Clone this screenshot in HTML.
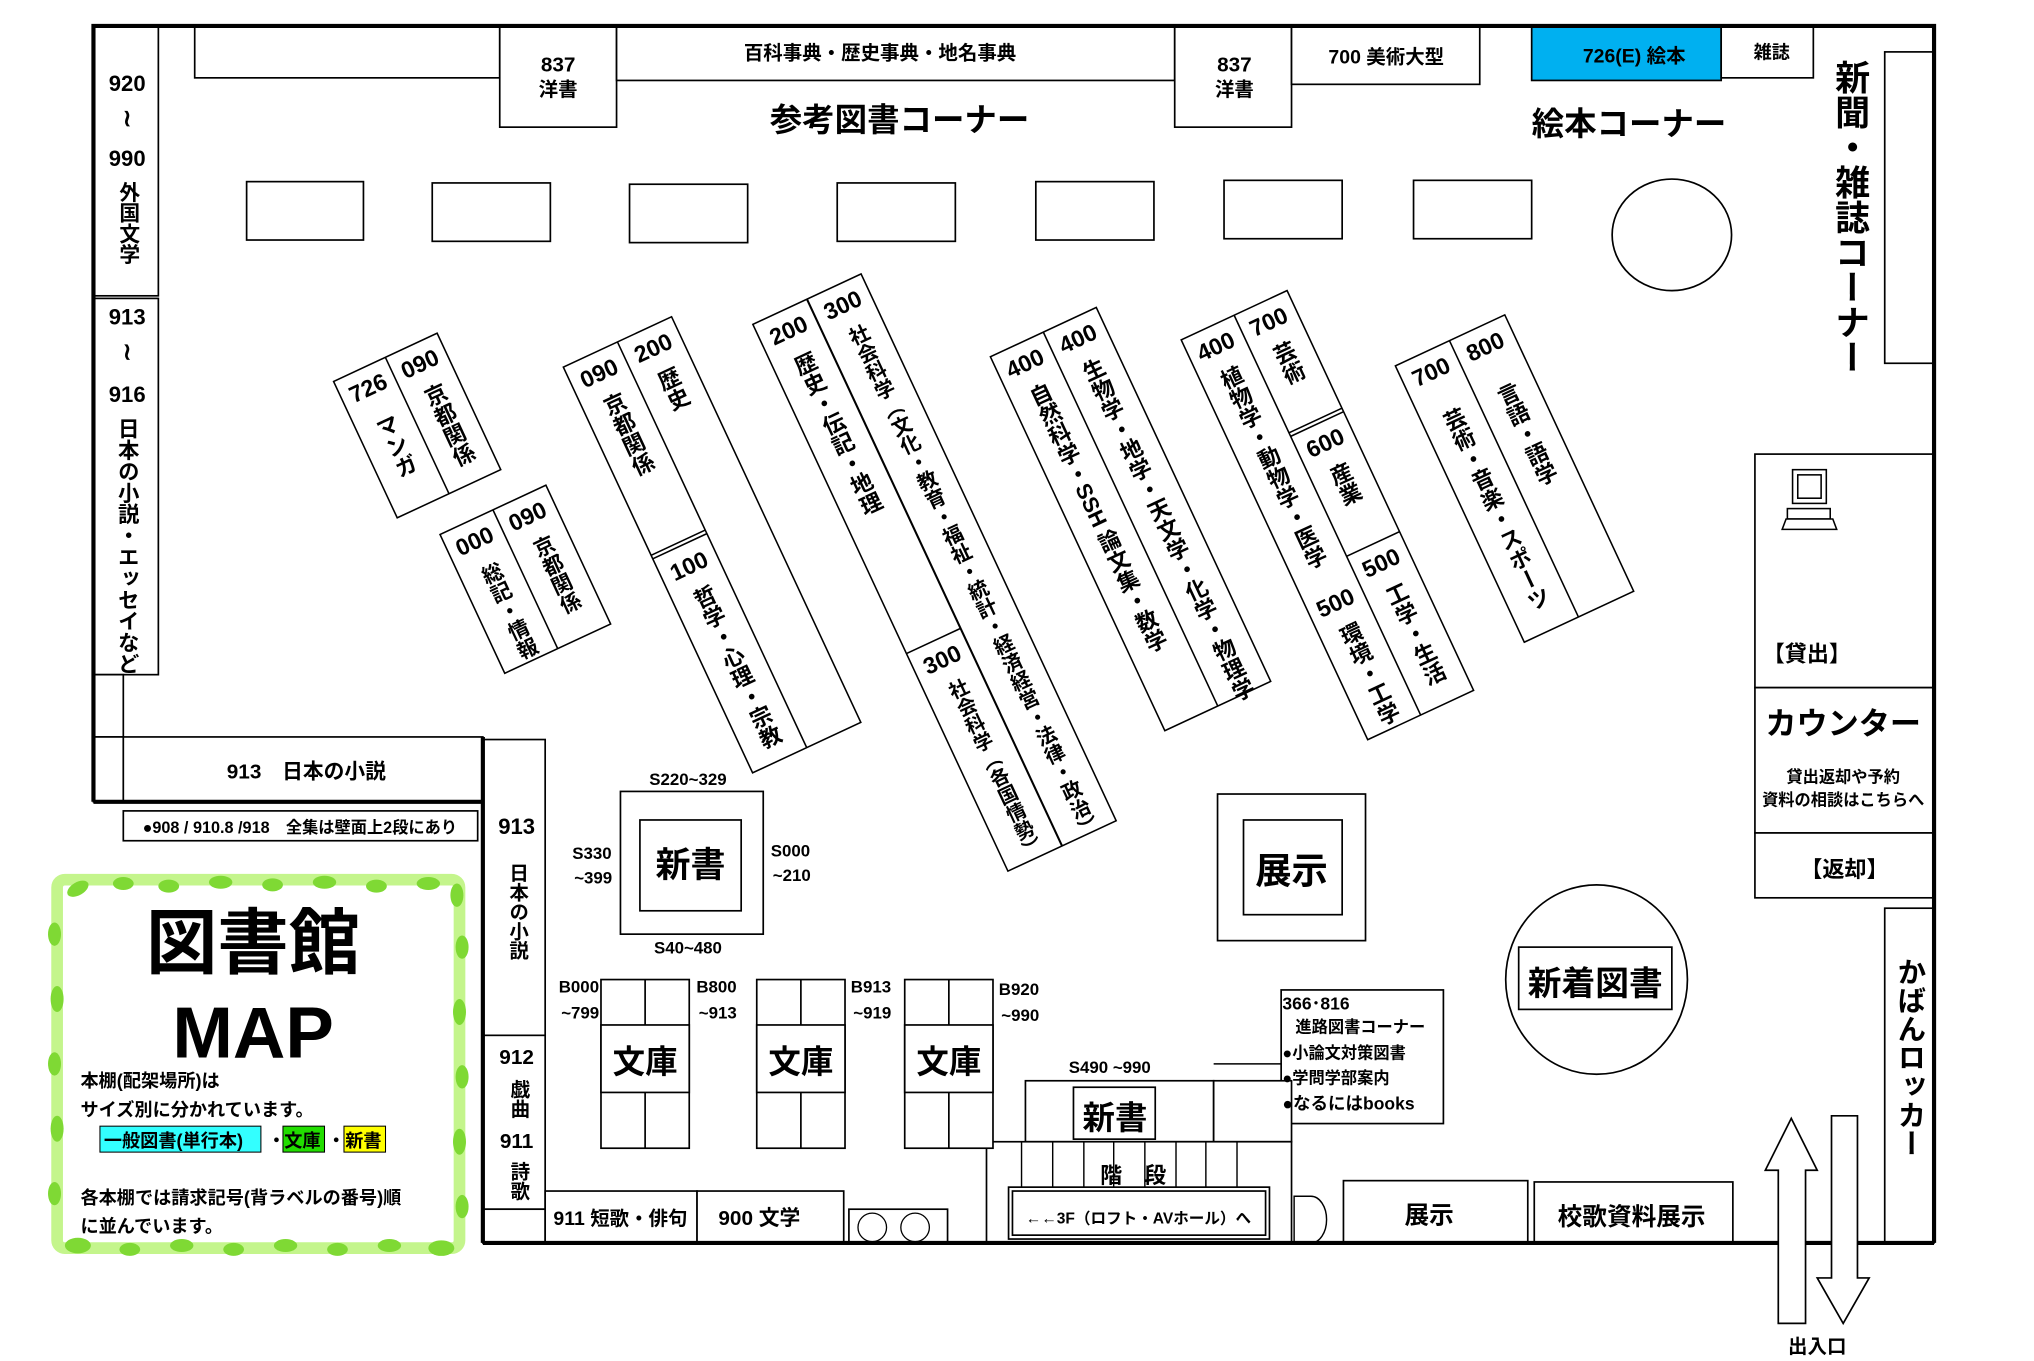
<!DOCTYPE html>
<html><head><meta charset="utf-8">
<style>
html,body{margin:0;padding:0;background:#fff;}
svg{display:block;}
text{font-family:"Liberation Sans","Noto Sans CJK JP",sans-serif;font-weight:bold;fill:#000;}
.v{writing-mode:tb;text-anchor:start;}
</style></head>
<body>
<svg width="2034" height="1361" viewBox="0 0 1567 1049" preserveAspectRatio="none" xmlns="http://www.w3.org/2000/svg">
<rect width="1567" height="1049" fill="#fff"/>
<g fill="#fff" stroke="#000" stroke-width="1.3">
<rect x="72" y="20" width="50" height="208"/>
<rect x="72" y="230" width="50" height="290"/>
<rect x="72" y="520" width="23" height="48"/>
<rect x="72" y="568" width="23" height="50"/>
<rect x="95" y="568" width="277" height="50"/>
<rect x="95" y="625" width="273" height="23"/>
<rect x="150" y="20" width="235" height="40"/>
<rect x="385" y="20" width="90" height="78"/>
<rect x="475" y="20" width="430" height="42"/>
<rect x="905" y="20" width="90" height="78"/>
<rect x="995" y="20" width="145" height="45"/>
<rect x="1180" y="20" width="146" height="42" fill="#00b0f0"/>
<rect x="1326" y="20" width="71" height="40"/>
<rect x="1452" y="40" width="38" height="240"/>
<rect x="190" y="140" width="90" height="45"/>
<rect x="333" y="141" width="91" height="45"/>
<rect x="485" y="142" width="91" height="45"/>
<rect x="645" y="141" width="91" height="45"/>
<rect x="798" y="140" width="91" height="45"/>
<rect x="943" y="139" width="91" height="45"/>
<rect x="1089" y="139" width="91" height="45"/>
<ellipse cx="1288" cy="181" rx="46" ry="43"/>
<rect x="1352" y="350" width="138" height="180"/>
<rect x="1352" y="530" width="138" height="112"/>
<rect x="1352" y="642" width="138" height="50"/>
<rect x="1452" y="700" width="38" height="258"/>
<rect x="372" y="570" width="48" height="228"/>
<rect x="372" y="798" width="48" height="134"/>
<rect x="372" y="932" width="48" height="26"/>
<rect x="420" y="918" width="117" height="40"/>
<rect x="537" y="918" width="113" height="40"/>
<rect x="654" y="932" width="76" height="26"/>
<rect x="478" y="610" width="110" height="110"/>
<rect x="493" y="632" width="78" height="70"/>
<rect x="938" y="612" width="114" height="113"/>
<rect x="958" y="632" width="76" height="73"/>
<rect x="987" y="763" width="125" height="103"/>
<ellipse cx="1230" cy="755" rx="70" ry="73"/>
<rect x="1170" y="730" width="118" height="48"/>
<rect x="1035" y="910" width="142" height="48"/>
<rect x="1182" y="911" width="153" height="47"/>
<rect x="790" y="833" width="145" height="47"/>
<rect x="935" y="833" width="60" height="47"/>
<rect x="827" y="838" width="63" height="40"/>
<rect x="760" y="880" width="235" height="78"/>
<rect x="777" y="915" width="201" height="40"/>
<rect x="780" y="918" width="195" height="34"/>
</g>
<g stroke="#000" stroke-width="1.1">
<line x1="787" y1="880" x2="787" y2="915"/><line x1="811" y1="880" x2="811" y2="915"/>
<line x1="835" y1="880" x2="835" y2="915"/><line x1="858" y1="880" x2="858" y2="915"/>
<line x1="882" y1="880" x2="882" y2="915"/><line x1="906" y1="880" x2="906" y2="915"/>
<line x1="929" y1="880" x2="929" y2="915"/><line x1="953" y1="880" x2="953" y2="915"/>
<line x1="935" y1="820" x2="987" y2="820"/>
</g>
<path d="M997 922 H1010 A12 18 0 0 1 1010 958 H997 Z" fill="#fff" stroke="#000" stroke-width="1.1"/>
<circle cx="672" cy="946" r="11" fill="#fff" stroke="#000"/>
<circle cx="705" cy="946" r="11" fill="#fff" stroke="#000"/>

<g fill="#fff" stroke="#000" stroke-width="1.3">
<rect x="463" y="755" width="68" height="130"/><line x1="497" y1="755" x2="497" y2="885"/><rect x="463" y="790" width="68" height="52"/>
<rect x="583" y="755" width="68" height="130"/><line x1="617" y1="755" x2="617" y2="885"/><rect x="583" y="790" width="68" height="52"/>
<rect x="697" y="755" width="68" height="130"/><line x1="731" y1="755" x2="731" y2="885"/><rect x="697" y="790" width="68" height="52"/>
</g>

<g stroke="#000" stroke-width="3.2" fill="none">
<polyline points="72,618 72,20 1490,20 1490,958"/>
<line x1="72" y1="618" x2="372" y2="618"/>
<line x1="372" y1="568" x2="372" y2="958"/>
<line x1="372" y1="958" x2="1490" y2="958"/>
</g>

<polygon points="1370,1020 1370,902 1360,902 1380,862 1400,902 1391,902 1391,1020" fill="#fff" stroke="#000" stroke-width="1.3"/>
<polygon points="1411,860 1431,860 1431,985 1440,985 1420,1020 1400,985 1411,985" fill="#fff" stroke="#000" stroke-width="1.3"/>

<g stroke="#000" fill="#fff" stroke-width="1.2">
<rect x="1381" y="362" width="26" height="26"/>
<rect x="1385" y="366" width="18" height="18"/>
<rect x="1377" y="392" width="33" height="8"/>
<polygon points="1376,400 1412,400 1415,408 1373,408"/>
</g>

<g font-size="17" text-anchor="middle">
<text x="98" y="70">920</text>
<text x="98" y="97" font-size="18">≀</text>
<text x="98" y="128">990</text>
<text class="v" x="98" y="140" font-size="16">外国文学</text>
<text x="98" y="250">913</text>
<text x="98" y="277" font-size="18">≀</text>
<text x="98" y="310">916</text>
<text class="v" x="98" y="322" font-size="16.5">日本の小説・エッセイなど</text>
<text x="236" y="600" font-size="16">913　日本の小説</text>
<text x="231" y="642" font-size="12.5">●908 / 910.8 /918　全集は壁面上2段にあり</text>
<text x="430" y="55" font-size="16">837</text>
<text x="430" y="74" font-size="15">洋書</text>
<text x="678" y="46" font-size="15">百科事典・歴史事典・地名事典</text>
<text x="951" y="55" font-size="16">837</text>
<text x="951" y="74" font-size="15">洋書</text>
<text x="1068" y="49" font-size="15">700 美術大型</text>
<text x="1259" y="48" font-size="15">726(E) 絵本</text>
<text x="1365" y="45" font-size="14">雑誌</text>
<text x="693" y="101" font-size="25">参考図書コーナー</text>
<text x="1255" y="104" font-size="25">絵本コーナー</text>
<text class="v" x="1425" y="46" font-size="27">新聞・雑誌コーナー</text>
<text x="1392" y="510" font-size="17">【貸出】</text>
<text x="1420" y="566" font-size="24">カウンター</text>
<text x="1420" y="603" font-size="12.5">貸出返却や予約</text>
<text x="1420" y="621" font-size="12.5">資料の相談はこちらへ</text>
<text x="1421" y="676" font-size="17">【返却】</text>
<text class="v" x="1471" y="738" font-size="22">かばんロッカー</text>
<text x="1400" y="1043" font-size="15">出入口</text>
<text x="398" y="643" font-size="17">913</text>
<text class="v" x="398" y="665" font-size="15">日本の小説</text>
<text x="398" y="820" font-size="16">912</text>
<text class="v" x="399" y="832" font-size="15">戯曲</text>
<text x="398" y="885" font-size="16">911</text>
<text class="v" x="399" y="895" font-size="15">詩歌</text>
<text x="478" y="944" font-size="15">911 短歌・俳句</text>
<text x="585" y="944" font-size="16">900 文学</text>
<text x="530" y="605" font-size="13">S220~329</text>
<text x="530" y="735" font-size="13">S40~480</text>
<text x="456" y="662" font-size="13">S330</text>
<text x="457" y="681" font-size="13">~399</text>
<text x="609" y="660" font-size="13">S000</text>
<text x="610" y="679" font-size="13">~210</text>
<text x="532" y="676" font-size="27">新書</text>
<text x="446" y="765" font-size="13">B000</text>
<text x="447" y="785" font-size="13">~799</text>
<text x="552" y="765" font-size="13">B800</text>
<text x="553" y="785" font-size="13">~913</text>
<text x="671" y="765" font-size="13">B913</text>
<text x="672" y="785" font-size="13">~919</text>
<text x="785" y="767" font-size="13">B920</text>
<text x="786" y="787" font-size="13">~990</text>
<text x="497" y="827" font-size="25">文庫</text>
<text x="617" y="827" font-size="25">文庫</text>
<text x="731" y="827" font-size="25">文庫</text>
<text x="855" y="827" font-size="13">S490 ~990</text>
<text x="859" y="870" font-size="25">新書</text>
<text x="873" y="912" font-size="17">階　段</text>
<text x="877" y="943" font-size="12">←←3F（ロフト・AVホール）へ</text>
<text x="995" y="681" font-size="28">展示</text>
<text x="1229" y="767" font-size="26">新着図書</text>
<text x="1101" y="943" font-size="19">展示</text>
<text x="1257" y="944" font-size="19">校歌資料展示</text>
</g>
<g font-size="13.5">
<text x="988" y="778">366･816</text>
<text x="998" y="796" font-size="12.5">進路図書コーナー</text>
<text x="988" y="816" font-size="12.5">●小論文対策図書</text>
<text x="988" y="835" font-size="12.5">●学問学部案内</text>
<text x="988" y="855" font-size="13.5">●なるにはbooks</text>
</g>

<g font-size="17" text-anchor="middle">
<g transform="translate(257,294) rotate(-25)">
<rect width="88" height="116" fill="#fff" stroke="#000" stroke-width="1.2"/>
<line x1="44" y1="0" x2="44" y2="116" stroke="#000" stroke-width="1.2"/>
<text x="22" y="22" font-size="18">726</text><text class="v" x="22" y="40">マンガ</text>
<text x="66" y="22" font-size="18">090</text><text class="v" x="66" y="34">京都関係</text>
</g>
<g transform="translate(339,412) rotate(-25)">
<rect width="90" height="118" fill="#fff" stroke="#000" stroke-width="1.2"/>
<line x1="45" y1="0" x2="45" y2="118" stroke="#000" stroke-width="1.2"/>
<text x="22" y="22" font-size="18">000</text><text class="v" x="22" y="36" font-size="16">総記・情報</text>
<text x="67" y="22" font-size="18">090</text><text class="v" x="67" y="34" font-size="16">京都関係</text>
</g>
<g transform="translate(434,283) rotate(-25)">
<rect width="92" height="345" fill="#fff" stroke="#000" stroke-width="1.2"/>
<line x1="46" y1="0" x2="46" y2="345" stroke="#000" stroke-width="1.2"/>
<line x1="0" y1="160" x2="46" y2="160" stroke="#000" stroke-width="1.2"/>
<line x1="0" y1="163" x2="46" y2="163" stroke="#000" stroke-width="1.2"/>
<text x="23" y="22" font-size="18">090</text><text class="v" x="23" y="34">京都関係</text>
<text x="23" y="186" font-size="18">100</text><text class="v" x="23" y="198">哲学・心理・宗教</text>
<text x="69" y="22" font-size="18">200</text><text class="v" x="69" y="34">歴史</text>
</g>
<g transform="translate(580,250) rotate(-25)">
<rect width="92" height="465" fill="#fff" stroke="#000" stroke-width="1.2"/>
<line x1="46" y1="0" x2="46" y2="465" stroke="#000" stroke-width="1.6"/>
<line x1="0" y1="280" x2="46" y2="280" stroke="#000" stroke-width="1.2"/>
<text x="23" y="22" font-size="18">200</text><text class="v" x="23" y="36">歴史・伝記・地理</text>
<text x="23" y="302" font-size="18">300</text><text class="v" x="23" y="314" font-size="15">社会科学（各国情勢）</text>
<text x="69" y="22" font-size="18">300</text><text class="v" x="69" y="34" font-size="15.5">社会科学（文化・教育・福祉・統計・経済経営・法律・政治）</text>
</g>
<g transform="translate(763,275) rotate(-25)">
<rect width="90" height="318" fill="#fff" stroke="#000" stroke-width="1.2"/>
<line x1="45" y1="0" x2="45" y2="318" stroke="#000" stroke-width="1.2"/>
<text x="22" y="22" font-size="18">400</text><text class="v" x="22" y="34">自然科学・SSH 論文集・数学</text>
<text x="67" y="22" font-size="18">400</text><text class="v" x="67" y="34">生物学・地学・天文学・化学・物理学</text>
</g>
<g transform="translate(910,262) rotate(-25)">
<rect width="90" height="340" fill="#fff" stroke="#000" stroke-width="1.2"/>
<line x1="45" y1="0" x2="45" y2="340" stroke="#000" stroke-width="1.2"/>
<line x1="45" y1="100" x2="90" y2="100" stroke="#000" stroke-width="1.2"/>
<line x1="45" y1="103" x2="90" y2="103" stroke="#000" stroke-width="1.2"/>
<line x1="45" y1="205" x2="90" y2="205" stroke="#000" stroke-width="1.2"/>
<text x="22" y="22" font-size="18">400</text><text class="v" x="22" y="34">植物学・動物学・医学</text>
<text x="22" y="240" font-size="18">500</text><text class="v" x="22" y="252">環境・工学</text>
<text x="67" y="22" font-size="18">700</text><text class="v" x="67" y="34">芸術</text>
<text x="67" y="125" font-size="18">600</text><text class="v" x="67" y="137">産業</text>
<text x="67" y="227" font-size="18">500</text><text class="v" x="67" y="239">工学・生活</text>
</g>
<g transform="translate(1075,282) rotate(-25)">
<rect width="93" height="235" fill="#fff" stroke="#000" stroke-width="1.2"/>
<line x1="46" y1="0" x2="46" y2="235" stroke="#000" stroke-width="1.2"/>
<text x="23" y="22" font-size="18">700</text><text class="v" x="23" y="48">芸術・音楽・スポーツ</text>
<text x="69" y="22" font-size="18">800</text><text class="v" x="69" y="48">言語・語学</text>
</g>
</g>

<g>
<rect x="44" y="678" width="310" height="284" rx="6" fill="#fff" stroke="#c4f58c" stroke-width="9"/>
<g fill="#7fd934">
<ellipse cx="60" cy="685" rx="9" ry="5" transform="rotate(-30 60 685)"/>
<ellipse cx="95" cy="681" rx="8" ry="5"/><ellipse cx="130" cy="683" rx="8" ry="5"/>
<ellipse cx="170" cy="680" rx="9" ry="5"/><ellipse cx="210" cy="682" rx="8" ry="5"/>
<ellipse cx="250" cy="680" rx="9" ry="5"/><ellipse cx="290" cy="683" rx="8" ry="5"/>
<ellipse cx="330" cy="681" rx="9" ry="5"/><ellipse cx="352" cy="690" rx="5" ry="9"/>
<ellipse cx="42" cy="720" rx="5" ry="9"/><ellipse cx="44" cy="770" rx="5" ry="10"/>
<ellipse cx="42" cy="820" rx="5" ry="9"/><ellipse cx="44" cy="870" rx="5" ry="10"/>
<ellipse cx="42" cy="920" rx="5" ry="9"/>
<ellipse cx="356" cy="730" rx="5" ry="9"/><ellipse cx="354" cy="780" rx="5" ry="10"/>
<ellipse cx="356" cy="830" rx="5" ry="9"/><ellipse cx="354" cy="880" rx="5" ry="10"/>
<ellipse cx="356" cy="930" rx="5" ry="9"/>
<ellipse cx="60" cy="960" rx="10" ry="6"/><ellipse cx="100" cy="963" rx="8" ry="5"/>
<ellipse cx="140" cy="960" rx="9" ry="5"/><ellipse cx="180" cy="963" rx="8" ry="5"/>
<ellipse cx="220" cy="960" rx="9" ry="5"/><ellipse cx="260" cy="963" rx="8" ry="5"/>
<ellipse cx="300" cy="960" rx="9" ry="5"/><ellipse cx="340" cy="962" rx="10" ry="6"/>
</g>
<text x="195" y="746" font-size="55" text-anchor="middle">図書館</text>
<text x="195" y="815" font-size="56" text-anchor="middle">MAP</text>
<text x="62" y="838" font-size="14">本棚(配架場所)は</text>
<text x="62" y="860" font-size="14">サイズ別に分かれています。</text>
<rect x="77" y="868" width="124" height="20" fill="#33ffff" stroke="#000" stroke-width="0.8"/>
<rect x="218" y="868" width="32" height="20" fill="#22dd00" stroke="#000" stroke-width="0.8"/>
<rect x="265" y="868" width="32" height="20" fill="#ffff00" stroke="#000" stroke-width="0.8"/>
<text x="80" y="884" font-size="14">一般図書(単行本)</text>
<text x="206" y="884" font-size="14">・</text>
<text x="219" y="884" font-size="14">文庫</text>
<text x="252" y="884" font-size="14">・</text>
<text x="266" y="884" font-size="14">新書</text>
<text x="62" y="928" font-size="14">各本棚では請求記号(背ラベルの番号)順</text>
<text x="62" y="950" font-size="14">に並んでいます。</text>
</g>
</svg>
</body></html>
